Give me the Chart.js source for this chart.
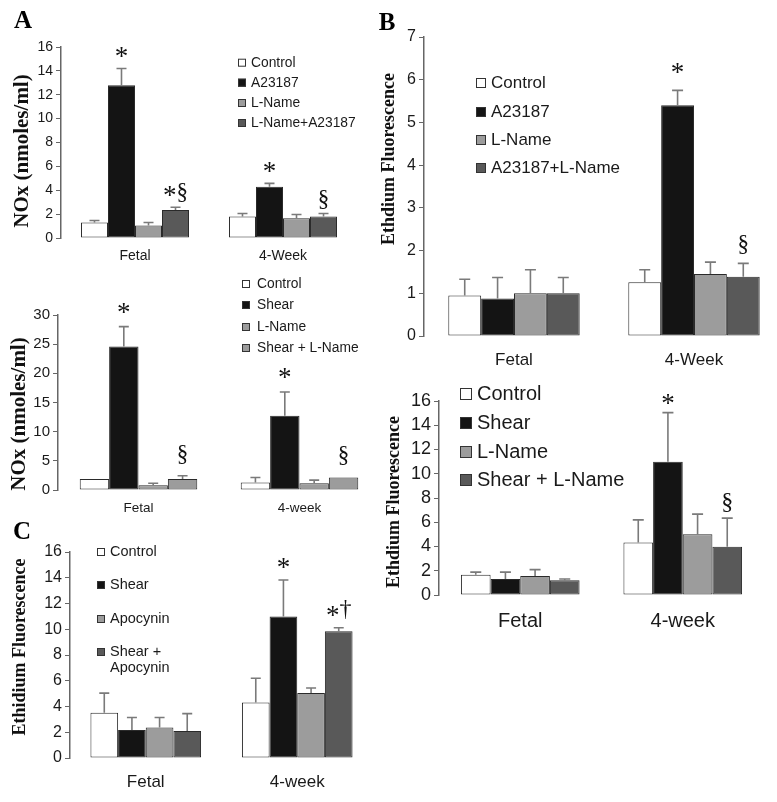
<!DOCTYPE html>
<html><head><meta charset="utf-8">
<script src="https://cdn.jsdelivr.net/npm/chart.js@4"></script>
<style>
html,body{margin:0;padding:0;background:#fff;}
#wrap{position:relative;width:777px;height:802px;overflow:hidden;background:#fff;}
canvas{position:absolute;left:0;top:0;}
</style></head><body><div id="wrap">
<canvas id="cA1" width="820" height="802"></canvas>
<canvas id="cA2" width="820" height="802"></canvas>
<canvas id="cC" width="820" height="802"></canvas>
<canvas id="cB1" width="820" height="802"></canvas>
<canvas id="cB2" width="820" height="802"></canvas>
</div>
<script>
// ---------- DATA ----------
// Panel A (top): NOx, A23187
const catsA1 = ['Fetal', '4-Week'];
const seriesA1 = ['Control', 'A23187', 'L-Name', 'L-Name+A23187'];
const meanA1 = [[1.3, 1.8], [12.8, 4.3], [1.05, 1.65], [2.35, 1.8]];
const errA1 = [[0.17, 0.25], [1.4, 0.28], [0.25, 0.32], [0.22, 0.25]];
const marksA1 = [['', ''], ['*', '*'], ['', ''], ['*§', '§']];
const yMaxA1 = 16, yStepA1 = 2;

// Panel A (bottom): NOx, Shear
const catsA2 = ['Fetal', '4-week'];
const seriesA2 = ['Control', 'Shear', 'L-Name', 'Shear + L-Name'];
const meanA2 = [[1.9, 1.3], [24.6, 12.75], [0.8, 1.15], [1.9, 2.15]];
const errA2 = [[0, 0.85], [3.4, 4.05], [0.35, 0.55], [0.55, 0]];
const marksA2 = [['', ''], ['*', '*'], ['', ''], ['§', '§']];
const yMaxA2 = 30, yStepA2 = 5;

// Panel C: Ethidium, Shear / Apocynin
const catsC = ['Fetal', '4-week'];
const seriesC = ['Control', 'Shear', 'Apocynin', 'Shear +\nApocynin'];
const meanC = [[3.52, 4.31], [2.17, 11.0], [2.37, 5.04], [2.1, 9.84]];
const errC = [[1.52, 1.88], [0.98, 2.82], [0.78, 0.4], [1.35, 0.28]];
const marksC = [['', ''], ['', '*'], ['', ''], ['', '*†']];
const yMaxC = 16, yStepC = 2;

// Panel B (top): Ethidium, A23187
const catsB1 = ['Fetal', '4-Week'];
const seriesB1 = ['Control', 'A23187', 'L-Name', 'A23187+L-Name'];
const meanB1 = [[0.95, 1.26], [0.88, 5.4], [1.0, 1.45], [1.0, 1.39]];
const errB1 = [[0.38, 0.29], [0.49, 0.35], [0.55, 0.28], [0.37, 0.31]];
const marksB1 = [['', ''], ['', '*'], ['', ''], ['', '§']];
const yMaxB1 = 7, yStepB1 = 1;

// Panel B (bottom): Ethidium, Shear
const catsB2 = ['Fetal', '4-week'];
const seriesB2 = ['Control', 'Shear', 'L-Name', 'Shear + L-Name'];
const meanB2 = [[1.67, 4.34], [1.32, 11.0], [1.56, 5.02], [1.21, 3.98]];
const errB2 = [[0.22, 1.86], [0.57, 4.04], [0.53, 1.65], [0.11, 2.36]];
const marksB2 = [['', ''], ['', '*'], ['', ''], ['', '§']];
const yMaxB2 = 16, yStepB2 = 2;

// ---------- STYLE ----------
const colorsStd = ['#ffffff', '#141414', '#9c9c9c', '#595959'];
const colorsA2 = ['#ffffff', '#141414', '#9c9c9c', '#9c9c9c'];
const SANS = '"Liberation Sans", Arial, sans-serif';
const SERIF = '"Liberation Serif", "Times New Roman", serif';
const CW = 820, CH = 802, YW = 40, XH = 40;

const annot = {
  id: 'annot',
  afterDatasetsDraw(chart, args, o) {
    const ctx = chart.ctx, ys = chart.scales.y;
    ctx.save();
    chart.data.datasets.forEach((ds, i) => {
      const meta = chart.getDatasetMeta(i);
      meta.data.forEach((bar, j) => {
        const e = ds.err[j];
        const top = ys.getPixelForValue(ds.data[j] + e);
        if (e > 0) {
          ctx.strokeStyle = '#7a7a7a';
          ctx.lineWidth = 1.6;
          ctx.beginPath();
          ctx.moveTo(bar.x, bar.y);
          ctx.lineTo(bar.x, top);
          ctx.moveTo(bar.x - o.cap / 2, top);
          ctx.lineTo(bar.x + o.cap / 2, top);
          ctx.stroke();
        }
        const m = ds.marks[j];
        if (m) {
          const chars = Array.from(m);
          const fontOf = c => (c === '*' ? o.starSize : o.secSize) + 'px ' + SERIF;
          const widths = chars.map(c => { ctx.font = fontOf(c); return ctx.measureText(c).width; });
          let x = bar.x - widths.reduce((a, b) => a + b, 0) / 2;
          ctx.fillStyle = '#111';
          ctx.textAlign = 'left';
          ctx.textBaseline = 'alphabetic';
          chars.forEach((c, k) => {
            ctx.font = fontOf(c);
            ctx.fillText(c, x, top - (c === '*' ? o.gapStar : o.gapSec));
            x += widths[k];
          });
        }
      });
    });
    ctx.restore();
  },
  afterDraw(chart, args, o) {
    const ctx = chart.ctx;
    ctx.save();
    const L = o.legend;
    chart.data.datasets.forEach((ds, i) => {
      const cy = L.rows[i];
      ctx.fillStyle = ds.backgroundColor;
      ctx.strokeStyle = '#333';
      ctx.lineWidth = 1;
      ctx.fillRect(L.x, cy - L.box / 2, L.box, L.box);
      ctx.strokeRect(L.x + 0.5, cy - L.box / 2 + 0.5, L.box - 1, L.box - 1);
      ctx.fillStyle = '#1a1a1a';
      ctx.font = L.size + 'px ' + SANS;
      ctx.textAlign = 'left';
      ctx.textBaseline = 'middle';
      ds.label.split('\n').forEach((t, k) => ctx.fillText(t, L.tx, cy + k * L.lh));
    });
    const T = o.title;
    ctx.translate(T.x, T.y);
    ctx.rotate(-Math.PI / 2);
    ctx.fillStyle = '#111';
    ctx.font = 'bold ' + T.size + 'px ' + SERIF;
    ctx.textAlign = 'center';
    ctx.textBaseline = 'middle';
    ctx.fillText(T.text, 0, 0);
    ctx.setTransform(1, 0, 0, 1, 0, 0);
    ctx.restore();
    if (o.letter) {
      ctx.save();
      ctx.fillStyle = '#000';
      ctx.font = 'bold 25px ' + SERIF;
      ctx.textAlign = 'center';
      ctx.textBaseline = 'middle';
      ctx.fillText(o.letter.text, o.letter.x, o.letter.y);
      ctx.restore();
    }
  }
};

function makePanel(id, p) {
  const datasets = p.series.map((name, i) => ({
    label: name,
    data: p.mean[i],
    err: p.err[i],
    marks: p.marks[i],
    backgroundColor: p.colors[i],
    borderColor: '#2a2a2a',
    borderWidth: 1,
    borderSkipped: false,
    barPercentage: 1,
    categoryPercentage: 0.73
  }));
  new Chart(document.getElementById(id), {
    type: 'bar',
    data: { labels: p.cats, datasets },
    plugins: [annot],
    options: {
      responsive: false,
      animation: false,
      events: [],
      layout: { padding: { left: p.L - YW, top: p.T, right: CW - p.R, bottom: CH - p.B - XH } },
      plugins: {
        legend: { display: false },
        tooltip: { enabled: false },
        annot: {
          cap: p.cap, starSize: p.starSize, secSize: p.secSize, gapStar: p.gapStar, gapSec: p.gapSec,
          legend: p.legend, title: p.title, letter: p.letter
        }
      },
      scales: {
        x: {
          offset: true,
          grid: { display: false, drawTicks: false },
          border: { display: false },
          ticks: { color: '#1a1a1a', font: { family: SANS, size: p.catSize }, padding: p.catPad, maxRotation: 0, autoSkip: false },
          afterFit(s) { s.height = XH; }
        },
        y: {
          min: 0, max: p.yMax,
          ticks: { stepSize: p.yStep, autoSkip: false, color: '#1a1a1a', font: { family: SANS, size: p.tickSize }, padding: 3 },
          grid: { display: true, drawOnChartArea: false, drawTicks: true, tickLength: 5, color: '#666', lineWidth: 1 },
          border: { display: true, color: '#666', width: 1.5 },
          afterFit(s) { s.width = YW; }
        }
      }
    }
  });
}

makePanel('cA1', {
  cats: catsA1, series: seriesA1, mean: meanA1, err: errA1, marks: marksA1, colors: colorsStd,
  yMax: yMaxA1, yStep: yStepA1, L: 61, R: 357, T: 47, B: 238,
  tickSize: 14, catSize: 14, catPad: 10, cap: 10,
  starSize: 27, secSize: 23, gapStar: 3, gapSec: 8,
  legend: { x: 238, tx: 251, box: 8, size: 13.8, lh: 16, rows: [62.7, 82.7, 103, 123] },
  title: { text: 'NOx (nmoles/ml)', x: 23, y: 151, size: 21 },
  letter: { text: 'A', x: 23, y: 22 }
});
makePanel('cA2', {
  cats: catsA2, series: seriesA2, mean: meanA2, err: errA2, marks: marksA2, colors: colorsA2,
  yMax: yMaxA2, yStep: yStepA2, L: 58, R: 380, T: 315, B: 490,
  tickSize: 15, catSize: 13.5, catPad: 10, cap: 10,
  starSize: 27, secSize: 23, gapStar: 6, gapSec: 15,
  legend: { x: 242, tx: 257, box: 8, size: 13.8, lh: 16, rows: [284, 305, 327, 348] },
  title: { text: 'NOx (nmoles/ml)', x: 20, y: 414, size: 21 },
  letter: null
});
makePanel('cC', {
  cats: catsC, series: seriesC, mean: meanC, err: errC, marks: marksC, colors: colorsStd,
  yMax: yMaxC, yStep: yStepC, L: 70, R: 373, T: 552, B: 758,
  tickSize: 16, catSize: 17, catPad: 14, cap: 10,
  starSize: 27, secSize: 24, gapStar: 4, gapSec: 12,
  legend: { x: 97, tx: 110, box: 8, size: 14.5, lh: 16, rows: [552, 585, 619, 652] },
  title: { text: 'Ethidium Fluorescence', x: 20, y: 647, size: 18 },
  letter: { text: 'C', x: 22, y: 533 }
});
makePanel('cB1', {
  cats: catsB1, series: seriesB1, mean: meanB1, err: errB1, marks: marksB1, colors: colorsStd,
  yMax: yMaxB1, yStep: yStepB1, L: 424, R: 784, T: 37, B: 336,
  tickSize: 16, catSize: 17, catPad: 14, cap: 11,
  starSize: 27, secSize: 23, gapStar: 9, gapSec: 12,
  legend: { x: 476, tx: 491, box: 10, size: 17, lh: 18, rows: [83, 112, 140, 168] },
  title: { text: 'Ethdium Fluorescence', x: 389, y: 159, size: 18 },
  letter: { text: 'B', x: 387, y: 24 }
});
makePanel('cB2', {
  cats: catsB2, series: seriesB2, mean: meanB2, err: errB2, marks: marksB2, colors: colorsStd,
  yMax: yMaxB2, yStep: yStepB2, L: 439, R: 764, T: 401, B: 595,
  tickSize: 18, catSize: 20, catPad: 14, cap: 11,
  starSize: 27, secSize: 24, gapStar: 1, gapSec: 9,
  legend: { x: 460, tx: 477, box: 12, size: 20, lh: 20, rows: [394, 423, 452, 480] },
  title: { text: 'Ethdium Fluorescence', x: 394, y: 502, size: 18 },
  letter: null
});
</script>
</body></html>
